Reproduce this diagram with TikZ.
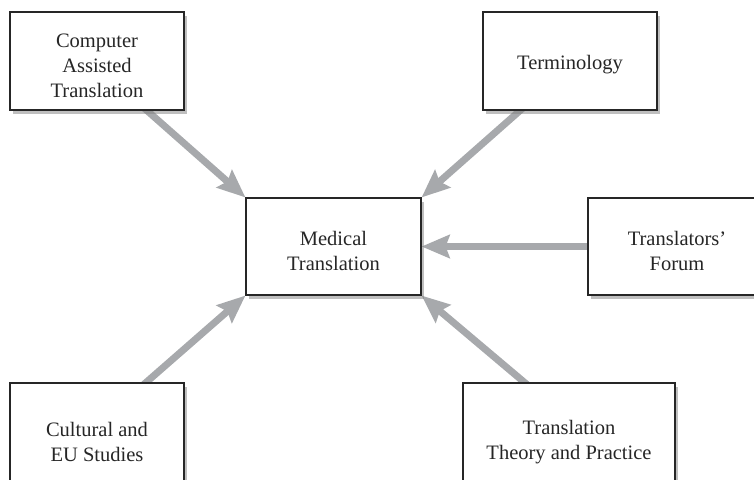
\documentclass[tikz,border=0pt]{standalone}
\usepackage{fontspec}
\setmainfont{Liberation Serif}
\usetikzlibrary{arrows.meta,shadows,backgrounds}
\definecolor{arrowgray}{HTML}{A7A9AC}
\newcommand{\topstrut}{\rule{0pt}{24pt}}
\tikzset{
  box/.style={draw=black!85, line width=1.1pt, fill=white, align=center,
    font=\fontsize{20.5}{25}\selectfont, text=black!85, inner sep=0pt,
    drop shadow={shadow xshift=3pt, shadow yshift=-3.5pt, opacity=0.5, fill=black!50}},
  flow/.style={draw=arrowgray, line width=7pt,
    -{Stealth[length=28pt,width=23pt,inset=4pt]}}
}
\begin{document}
\begin{tikzpicture}[x=1pt,y=-1pt]
\useasboundingbox (0,0) rectangle (754,479);
% connector start points (hidden under boxes)
\coordinate (catS) at (135,100);
\coordinate (termS) at (532,100);
\coordinate (forumS) at (600,246.5);
\coordinate (culS) at (134,393);
\coordinate (theoS) at (537,393);
% boxes
\node[box, minimum width=174pt, minimum height=98pt] (cat) at (97,61) {\topstrut Computer\\Assisted\\Translation};
\node[box, minimum width=174pt, minimum height=98pt] (term) at (570,61) {\rule{0pt}{22pt}Terminology};
\node[box, minimum width=175pt, minimum height=97pt] (med) at (333.5,246.5) {\topstrut Medical\\Translation};
\node[box, minimum width=178pt, minimum height=97pt] (forum) at (677,246.5) {\topstrut Translators'\\Forum};
\node[box, minimum width=174pt, minimum height=108pt] (cul) at (97,437) {\topstrut Cultural and\\EU Studies};
\node[box, minimum width=212pt, minimum height=108pt] (theo) at (569,437) {\topstrut Translation\\Theory and Practice};
% connectors behind the boxes
\begin{pgfonlayer}{background}
\draw[flow] (catS) -- (med.north west);
\draw[flow] (termS) -- (med.north east);
\draw[flow] (forumS) -- (med.east);
\draw[flow] (culS) -- (med.south west);
\draw[flow] (theoS) -- (med.south east);
\end{pgfonlayer}
\end{tikzpicture}
\end{document}
